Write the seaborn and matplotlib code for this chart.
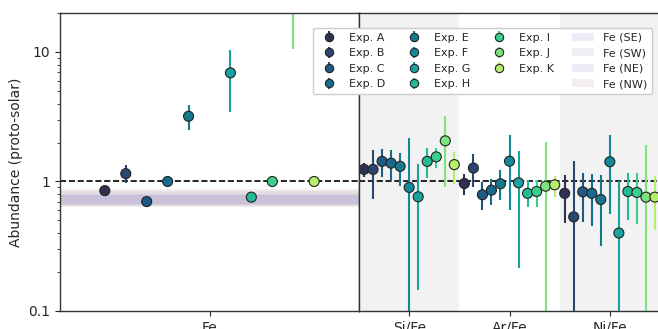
import numpy as np
import pandas as pd
import matplotlib
matplotlib.use("Agg")
import matplotlib.pyplot as plt
import seaborn as sns

sns.set_style("ticks")
plt.rcParams['font.family'] = ['DejaVu Sans']

experiments = ["Exp. A", "Exp. B", "Exp. C", "Exp. D", "Exp. E", "Exp. F",
               "Exp. G", "Exp. H", "Exp. I", "Exp. J", "Exp. K"]
colors = ["#2e3354", "#2c4672", "#1f5a86", "#176b8e", "#14798f", "#12899b",
          "#18a39f", "#22bb95", "#38d08b", "#7ce37d", "#b4f06a"]

# Fe panel (absolute abundances)
fe_val = [0.85, 1.15, 0.70, 1.00, 3.19, np.nan, 6.9, 0.757, 1.00, 30.0, 1.00]
fe_lo  = [0.83, 0.97, 0.68, 0.98, 2.51, np.nan, 3.43, 0.74, 0.98, 10.5, 0.98]
fe_hi  = [0.87, 1.33, 0.72, 1.02, 3.91, np.nan, 10.3, 0.77, 1.02, 60.0, 1.02]

ratios = ["Si/Fe", "Ar/Fe", "Ni/Fe"]
si_val = [1.24, 1.24, 1.43, 1.385, 1.31, 0.90, 0.762, 1.43, 1.55, 2.06, 1.35]
si_lo  = [1.08, 0.73, 1.08, 1.00, 0.92, 0.05, 0.146, 1.06, 1.28, 0.90, 0.96]
si_hi  = [1.39, 1.76, 1.78, 1.76, 1.67, 2.17, 1.37, 1.80, 1.80, 3.23, 1.70]
ar_val = [0.965, 1.27, 0.79, 0.857, 0.96, 1.435, 0.977, 0.81, 0.837, 0.92, 0.943]
ar_lo  = [0.79, 0.90, 0.60, 0.66, 0.72, 0.60, 0.214, 0.63, 0.63, 0.05, 0.76]
ar_hi  = [1.15, 1.64, 0.99, 1.05, 1.23, 2.27, 1.73, 1.02, 1.03, 2.01, 1.11]
ni_val = [0.81, 0.533, 0.832, 0.81, 0.726, 1.42, 0.40, 0.837, 0.823, 0.757, 0.757]
ni_lo  = [0.48, 0.05, 0.49, 0.455, 0.32, 0.56, 0.05, 0.506, 0.47, 0.05, 0.42]
ni_hi  = [1.13, 1.45, 1.17, 1.15, 1.13, 2.27, 1.00, 1.17, 1.17, 1.90, 1.10]

band_labels = ["Fe (SE)", "Fe (SW)", "Fe (NE)", "Fe (NW)"]
band_lo = [0.66, 0.65, 0.67, 0.63]
band_hi = [0.80, 0.84, 0.79, 0.88]
band_colors = ["#3333bb", "#55387d", "#3333bb", "#873840"]

fig = plt.figure(figsize=(6.58, 3.29), dpi=100)
W, H = 658, 329
axL = fig.add_axes([60 / W, (H - 311) / H, (359 - 60) / W, (311 - 13) / H])
axR = fig.add_axes([359 / W, (H - 311) / H, (660 - 359) / W, (311 - 13) / H], sharey=axL)

for ax in (axL, axR):
    ax.set_yscale("log")
axL.set_ylim(0.1, 20)

# Fe bands
band_handles = []
for lab, lo, hi, c in zip(band_labels, band_lo, band_hi, band_colors):
    h = axL.axhspan(lo, hi, color=c, alpha=0.085, lw=0, zorder=0, label=lab)
    band_handles.append(h)

# grey background bands in ratio panel
axR.axvspan(-0.5, 0.5, color="#f2f2f2", lw=0, zorder=0)
axR.axvspan(1.5, 2.5, color="#f2f2f2", lw=0, zorder=0)

for ax in (axL, axR):
    ax.axhline(1.0, color="k", ls="--", lw=1.2, zorder=1)

# build long tables
rowsL = []
for k, e in enumerate(experiments):
    rowsL.append(dict(exp=e, x=(k - 5) * 0.07, y=fe_val[k], lo=fe_lo[k], hi=fe_hi[k]))
dfL = pd.DataFrame(rowsL)

rowsR = []
for j, (vals, los, his) in enumerate([(si_val, si_lo, si_hi), (ar_val, ar_lo, ar_hi), (ni_val, ni_lo, ni_hi)]):
    for k, e in enumerate(experiments):
        rowsR.append(dict(exp=e, x=j + (k - 5) * 0.09, y=vals[k], lo=los[k], hi=his[k]))
dfR = pd.DataFrame(rowsR)

pal = dict(zip(experiments, colors))
handles = []
for ax, df in ((axL, dfL), (axR, dfR)):
    for e in experiments:
        d = df[(df.exp == e) & df.y.notna()]
        if len(d) == 0:
            continue
        ax.errorbar(d.x, d.y, yerr=[d.y - d.lo, d.hi - d.y], fmt="none",
                    ecolor=pal[e], elinewidth=1.5, capsize=0, zorder=2)
    sns.scatterplot(data=df.dropna(subset=["y"]), x="x", y="y", hue="exp",
                    palette=pal, s=52, edgecolor="#222222", linewidth=0.8,
                    legend=False, ax=ax, zorder=3, clip_on=True)

# legend handles (errorbar style)
for e in experiments:
    h = axL.errorbar([np.nan], [np.nan], yerr=[[np.nan], [np.nan]], fmt="o",
                     color=pal[e], mec="#222222", mew=0.8, ms=6,
                     elinewidth=1.5, label=e)
    handles.append(h)

axL.set_xlim(-0.5, 0.5)
axL.set_xticks([0])
axL.set_xticklabels(["Fe"])
axR.set_xlim(-0.5, 2.5)
axR.set_xticks([0, 1, 2])
axR.set_xticklabels(ratios)
axL.set_xlabel("")
axR.set_xlabel("")
axL.set_ylabel("Abundance (proto-solar)", fontsize=10)
axR.set_ylabel("")
axL.set_yticks([0.1, 1, 10])
axL.set_yticklabels(["0.1", "1", "10"])
axL.tick_params(axis="both", labelsize=10)
axR.tick_params(axis="x", labelsize=10)
axR.tick_params(axis="y", which="both", left=False, labelleft=False)

for ax in (axL, axR):
    for s in ax.spines.values():
        s.set_color("#333333")
        s.set_linewidth(1.0)

leg_handles = handles[0:4] + handles[4:8] + handles[8:11] + [plt.Line2D([], [], ls="none")] + band_handles
leg_labels = experiments[0:4] + experiments[4:8] + experiments[8:11] + [""] + band_labels
leg = fig.legend(leg_handles, leg_labels, ncol=4, fontsize=8,
                 loc="upper right", bbox_to_anchor=(658 / W, 1 - 22 / H),
                 frameon=True, edgecolor="#cccccc", fancybox=True,
                 handletextpad=0.8, columnspacing=1.6, labelspacing=0.5,
                 borderpad=0.45, handlelength=2.0)
leg.get_frame().set_alpha(1.0)

fig.savefig("out.png", dpi=100)
